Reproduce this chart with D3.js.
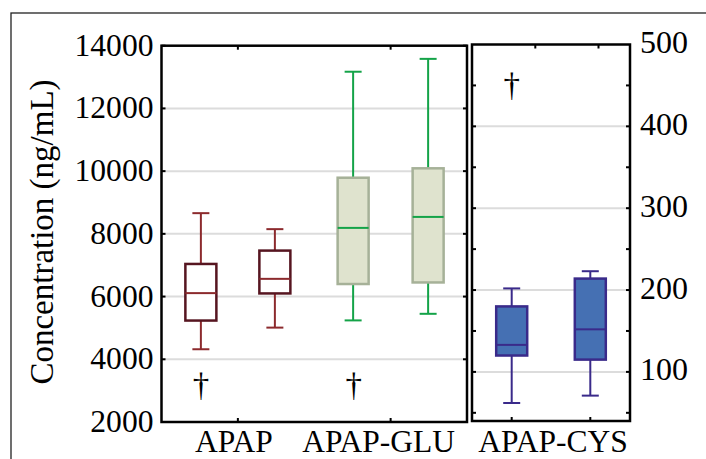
<!DOCTYPE html>
<html>
<head>
<meta charset="utf-8">
<script src="https://cdn.jsdelivr.net/npm/d3@7"></script>
<style>
  body { margin: 0; background: #fff; }
  svg { display: block; }
  text { font-family: "Liberation Serif", "DejaVu Serif", serif; fill: #000; }
</style>
</head>
<body>
<svg id="chart" width="706" height="459"></svg>
<script>
// groups on each panel
const leftGroups = ["APAP", "APAP-GLU"]
const rightGroups = ["APAP-CYS"]

// box stats per group: [min, q1, median, q3, max], two boxes each
const apapStats = [[4320, 5235, 6110, 7040, 8660], [5010, 6100, 6565, 7466, 8150]]
const gluStats = [[5240, 6400, 8190, 9790, 13170], [5450, 6450, 8540, 10090, 13580]]
const cysStats = [[62, 120, 133, 180, 202], [71, 115, 152, 214, 223]]

// dagger marks: [group, box index, value]
const leftDaggers = [["APAP", 0, 3100], ["APAP-GLU", 0, 3100]]
const rightDaggers = [["APAP-CYS", 0, 447]]

const leftTicks = [2000, 4000, 6000, 8000, 10000, 12000, 14000]
const rightTicks = [100, 200, 300, 400, 500]
const rightMinor = [50, 100, 150, 200, 250, 300, 350, 400, 450]

const styles = {
  "APAP": { fill: "#fff", stroke: "#561520", whisker: "#8c2a2d", median: "#8c2a2d" },
  "APAP-GLU": { fill: "#dfe3ce", stroke: "#a6b198", whisker: "#14a348", median: "#14a348" },
  "APAP-CYS": { fill: "#4570b3", stroke: "#3a2a8a", whisker: "#3a2a8a", median: "#3a2a8a" }
}

const svg = d3.select("#chart")

// outer frame, only top/left in view
svg.append("rect").attr("x", 11).attr("y", 13).attr("width", 900).attr("height", 600)
  .attr("fill", "none").attr("stroke", "#222").attr("stroke-width", 1.3)

const L = { x0: 161.5, x1: 467, y0: 45.7, y1: 422 }
const R = { x0: 472, x1: 630, y0: 44.5, y1: 421 }

const yL = d3.scaleLinear().domain([2000, 14000]).range([L.y1, L.y0])
const yR = d3.scaleLinear().domain([40, 500]).range([R.y1, R.y0])
const xL = d3.scaleBand().domain(leftGroups).range([L.x0, L.x1])
const xR = d3.scaleBand().domain(rightGroups).range([R.x0 + 1, R.x1 - 1])

const boxW = 31, capW = 17

function gridlines(p, y, vals) {
  svg.append("g").selectAll("line").data(vals.filter(v => y(v) > p.y0 + 2 && y(v) < p.y1 - 2)).enter()
    .append("line")
    .attr("x1", p.x0).attr("x2", p.x1)
    .attr("y1", d => y(d)).attr("y2", d => y(d))
    .attr("stroke", "#dcdcdc").attr("stroke-width", 2)
}

function boxes(x, y, group, stats, off) {
  const s = styles[group]
  const g = svg.append("g").attr("class", "box")
  stats.forEach(function(d, i) {
    const cx = x(group) + x.bandwidth() / 2 + (i == 0 ? -off : off)
    // whiskers
    g.append("line").attr("x1", cx).attr("x2", cx).attr("y1", y(d[0])).attr("y2", y(d[1]))
      .attr("stroke", s.whisker).attr("stroke-width", 2)
    g.append("line").attr("x1", cx).attr("x2", cx).attr("y1", y(d[3])).attr("y2", y(d[4]))
      .attr("stroke", s.whisker).attr("stroke-width", 2)
    g.selectAll(null).data([d[0], d[4]]).enter().append("line")
      .attr("x1", cx - capW / 2).attr("x2", cx + capW / 2)
      .attr("y1", v => y(v)).attr("y2", v => y(v))
      .attr("stroke", s.whisker).attr("stroke-width", 2)
    g.append("rect").attr("x", cx - boxW / 2).attr("width", boxW)
      .attr("y", y(d[3])).attr("height", y(d[1]) - y(d[3]))
      .attr("fill", s.fill).attr("stroke", s.stroke).attr("stroke-width", 2.5)
    g.append("line").attr("x1", cx - boxW / 2).attr("x2", cx + boxW / 2)
      .attr("y1", y(d[2])).attr("y2", y(d[2]))
      .attr("stroke", s.median).attr("stroke-width", 2)
  })
}

function daggers(x, y, data, statsOff) {
  svg.append("g").selectAll("text").data(data).enter().append("text")
    .attr("x", d => x(d[0]) + x.bandwidth() / 2 + (d[1] == 0 ? -statsOff : statsOff))
    .attr("y", d => y(d[2]) + 8)
    .attr("text-anchor", "middle").attr("font-size", 33)
    .text("\u2020")
}

gridlines(L, yL, leftTicks)
gridlines(R, yR, rightTicks)

boxes(xL, yL, "APAP", apapStats, 37)
boxes(xL, yL, "APAP-GLU", gluStats, 37.5)
boxes(xR, yR, "APAP-CYS", cysStats, 39.3)

daggers(xL, yL, leftDaggers, 37)
daggers(xR, yR, rightDaggers, 39.3)

// inner ticks
function tickMarks(p, y, vals, xpos, dir) {
  svg.append("g").selectAll("line").data(vals).enter().append("line")
    .attr("x1", xpos).attr("x2", xpos + dir * 4)
    .attr("y1", d => y(d)).attr("y2", d => y(d))
    .attr("stroke", "#000").attr("stroke-width", 2)
}
tickMarks(L, yL, leftTicks, L.x0, 1)
tickMarks(L, yL, leftTicks, L.x1, -1)
tickMarks(R, yR, rightMinor, R.x0, 1)
tickMarks(R, yR, rightMinor, R.x1, -1)

// x ticks top/bottom
function xTicks(xs, yTop) {
  xs.forEach(function(xv) {
    svg.append("line").attr("x1", xv).attr("x2", xv).attr("y1", yTop).attr("y2", yTop + 4)
      .attr("stroke", "#000").attr("stroke-width", 2)
  })
}
xTicks(leftGroups.map(d => xL(d) + xL.bandwidth() / 2), L.y0)
xTicks(rightGroups.map(d => xR(d) + xR.bandwidth() / 2 - 15.7).concat([598.5]), R.y0)
leftGroups.forEach(function(d) {
  const xv = xL(d) + xL.bandwidth() / 2
  svg.append("line").attr("x1", xv).attr("x2", xv).attr("y1", L.y1).attr("y2", L.y1 - 4)
    .attr("stroke", "#000").attr("stroke-width", 2)
})
;[-39.3, 39.3].forEach(function(o) {
  const xv = xR("APAP-CYS") + xR.bandwidth() / 2 + o
  svg.append("line").attr("x1", xv).attr("x2", xv).attr("y1", R.y1).attr("y2", R.y1 - 4)
    .attr("stroke", "#000").attr("stroke-width", 2)
})

// panel frames
svg.append("rect").attr("x", L.x0).attr("y", L.y0).attr("width", L.x1 - L.x0).attr("height", L.y1 - L.y0)
  .attr("fill", "none").attr("stroke", "#000").attr("stroke-width", 2.5)
svg.append("rect").attr("x", R.x0).attr("y", R.y0).attr("width", R.x1 - R.x0).attr("height", R.y1 - R.y0)
  .attr("fill", "none").attr("stroke", "#000").attr("stroke-width", 2.5)

// axis labels
const axL = svg.append("g").attr("transform", `translate(${L.x0},0)`)
  .call(d3.axisLeft(yL).tickValues(leftTicks).tickFormat(d3.format("d")).tickSize(0).tickPadding(8))
axL.select(".domain").remove()
axL.selectAll("text").attr("font-size", 31.6).attr("font-family", "Liberation Serif").attr("dy", "0.3em")

const axR = svg.append("g").attr("transform", `translate(${R.x1},0)`)
  .call(d3.axisRight(yR).tickValues(rightTicks).tickFormat(d3.format("d")).tickSize(0).tickPadding(10))
axR.select(".domain").remove()
axR.selectAll("text").attr("font-size", 32).attr("font-family", "Liberation Serif").attr("dy", "0.25em")

const axB = svg.append("g").attr("transform", `translate(0,${L.y1})`)
  .call(d3.axisBottom(xL).tickSize(0).tickPadding(0))
axB.select(".domain").remove()
axB.selectAll("text").attr("font-size", 31.5).attr("font-family", "Liberation Serif")
  .attr("y", 29.5).attr("dy", 0).attr("dx", (d, i) => i == 0 ? -4 : -12)

const axB2 = svg.append("g").attr("transform", `translate(0,${L.y1})`)
  .call(d3.axisBottom(xR).tickSize(0).tickPadding(0))
axB2.select(".domain").remove()
axB2.selectAll("text").attr("font-size", 31.5).attr("font-family", "Liberation Serif")
  .attr("y", 29.5).attr("dy", 0).attr("dx", 2)

svg.append("text")
  .attr("transform", "translate(53,232) rotate(-90)")
  .attr("text-anchor", "middle").attr("font-size", 33)
  .text("Concentration (ng/mL)")
</script>
</body>
</html>
